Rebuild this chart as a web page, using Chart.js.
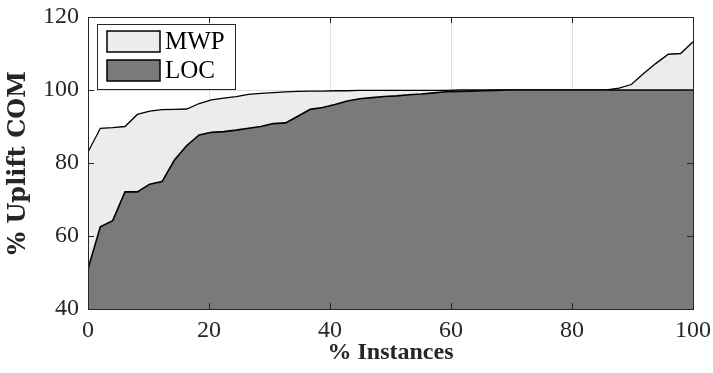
<!DOCTYPE html>
<html>
<head>
<meta charset="utf-8">
<script src="https://cdn.jsdelivr.net/npm/chart.js@4.4.1/dist/chart.umd.min.js"></script>
<style>
  html, body { margin: 0; padding: 0; background: #ffffff; }
  #wrap { width: 713px; height: 373px; }
</style>
</head>
<body>
<div id="wrap"><canvas id="c" width="713" height="373"></canvas></div>
<script>
// ---- data ----
const seriesNames = ['MWP', 'LOC'];
const instancePct = [0, 2.04, 4.08, 6.12, 8.16, 10.2, 12.24, 14.29, 16.33, 18.37,
  20.41, 22.45, 24.49, 26.53, 28.57, 30.61, 32.65, 34.69, 36.73, 38.78,
  40.82, 42.86, 44.9, 46.94, 48.98, 51.02, 53.06, 55.1, 57.14, 59.18,
  61.22, 63.27, 65.31, 67.35, 69.39, 71.43, 73.47, 75.51, 77.55, 79.59,
  81.63, 83.67, 85.71, 87.76, 89.8, 91.84, 93.88, 95.92, 97.96, 100];
const mwpUplift = [83, 89.5, 89.7, 90, 93.3, 94.2, 94.6, 94.7, 94.8, 96.3,
  97.3, 97.8, 98.2, 98.8, 99.1, 99.3, 99.5, 99.6, 99.7, 99.7,
  99.8, 99.8, 99.9, 99.9, 99.9, 99.9, 99.9, 99.9, 99.9, 99.9,
  100, 100, 100, 100, 100, 100, 100, 100, 100, 100,
  100, 100, 100, 100.5, 101.5, 104.5, 107.3, 109.8, 110, 113.2];
const locUplift = [51, 62.5, 64.2, 72.1, 72.1, 74.2, 74.9, 80.8, 84.8, 87.7,
  88.4, 88.6, 89, 89.5, 90, 90.8, 91, 92.8, 94.7, 95.2,
  96, 97, 97.6, 97.9, 98.2, 98.4, 98.7, 98.9, 99.2, 99.5,
  99.6, 99.7, 99.8, 99.9, 100, 100, 100, 100, 100, 100,
  100, 100, 100, 100, 100, 100, 100, 100, 100, 100];
const xTicks = [0, 20, 40, 60, 80, 100];
const yTicks = [40, 60, 80, 100, 120];
const xTitle = '% Instances';
const yTitle = '% Uplift COM';

const FONT = "'Liberation Serif', 'DejaVu Serif', serif";
const AXIS = '#262626';
const fillColors = ['#ececec', '#7a7a7a'];

function pts(ys) { return instancePct.map((x, i) => ({ x: x, y: ys[i] })); }

function noPad(s) { s.paddingTop = 0; s.paddingBottom = 0; s.paddingLeft = 0; s.paddingRight = 0; }

const boxPlugin = {
  id: 'boxAndTicks',
  afterDatasetsDraw(chart) {
    const { ctx, chartArea: a, scales } = chart;
    const L = 6;
    ctx.save();
    ctx.strokeStyle = AXIS;
    ctx.lineWidth = 1;
    ctx.beginPath();
    xTicks.forEach(v => {
      const px = Math.round(scales.x.getPixelForValue(v)) + 0.5;
      ctx.moveTo(px, a.bottom); ctx.lineTo(px, a.bottom - L);
      ctx.moveTo(px, a.top); ctx.lineTo(px, a.top + L);
    });
    yTicks.forEach(v => {
      const py = Math.round(scales.y.getPixelForValue(v)) + 0.5;
      ctx.moveTo(a.left, py); ctx.lineTo(a.left + L, py);
      ctx.moveTo(a.right, py); ctx.lineTo(a.right - L, py);
    });
    ctx.stroke();
    ctx.strokeRect(Math.round(a.left) + 0.5, Math.round(a.top) + 0.5,
      Math.round(a.right - a.left), Math.round(a.bottom - a.top));

    // legend inside the plot (upper left)
    const lx = a.left + 9, ly = a.top + 7, lw = 138, lh = 65;
    ctx.fillStyle = '#ffffff';
    ctx.fillRect(lx, ly, lw, lh);
    ctx.strokeStyle = AXIS;
    ctx.strokeRect(lx + 0.5, ly + 0.5, lw, lh);
    ctx.font = '25px ' + FONT;
    ctx.textBaseline = 'middle';
    ctx.textAlign = 'left';
    seriesNames.forEach((name, i) => {
      const sy = ly + 7 + i * 29;
      ctx.fillStyle = fillColors[i];
      ctx.fillRect(lx + 10, sy, 53, 21);
      ctx.strokeStyle = '#000000';
      ctx.lineWidth = 1.5;
      ctx.strokeRect(lx + 10, sy, 53, 21);
      ctx.fillStyle = '#000000';
      ctx.fillText(name, lx + 68, sy + 11);
    });
    ctx.restore();
  }
};

new Chart(document.getElementById('c'), {
  type: 'line',
  data: {
    datasets: [
      { label: seriesNames[1], data: pts(locUplift), backgroundColor: fillColors[1],
        borderColor: '#000000', borderWidth: 1.6, fill: 'start', pointRadius: 0, tension: 0 },
      { label: seriesNames[0], data: pts(mwpUplift), backgroundColor: fillColors[0],
        borderColor: '#000000', borderWidth: 1.3, fill: 'start', pointRadius: 0, tension: 0 }
    ]
  },
  options: {
    responsive: false,
    animation: false,
    devicePixelRatio: 1,
    layout: { padding: { top: 17, right: 20, left: 0, bottom: 0 } },
    plugins: { legend: { display: false }, tooltip: { enabled: false } },
    scales: {
      x: {
        type: 'linear', min: 0, max: 100,
        afterFit(s) { s.height = 64; noPad(s); },
        afterBuildTicks(s) { s.ticks = xTicks.map(v => ({ value: v })); },
        grid: { color: '#dfdfdf', drawTicks: false },
        border: { display: false },
        ticks: { color: AXIS, padding: 7, font: { family: FONT, size: 24 }, maxRotation: 0 },
        title: { display: true, text: xTitle, color: AXIS, padding: { top: 0, bottom: 6 },
                 font: { family: FONT, size: 24, weight: 'bold' } }
      },
      y: {
        type: 'linear', min: 40, max: 120,
        afterFit(s) { s.width = 88; noPad(s); },
        afterBuildTicks(s) { s.ticks = yTicks.map(v => ({ value: v })); },
        grid: { color: '#dfdfdf', drawTicks: false },
        border: { display: false },
        ticks: { color: AXIS, padding: 9, font: { family: FONT, size: 24 } },
        title: { display: true, text: yTitle, color: AXIS, padding: { top: 4, bottom: 0 },
                 font: { family: "'DejaVu Serif', serif", size: 24, weight: 'bold' } }
      }
    }
  },
  plugins: [boxPlugin]
});
</script>
</body>
</html>
